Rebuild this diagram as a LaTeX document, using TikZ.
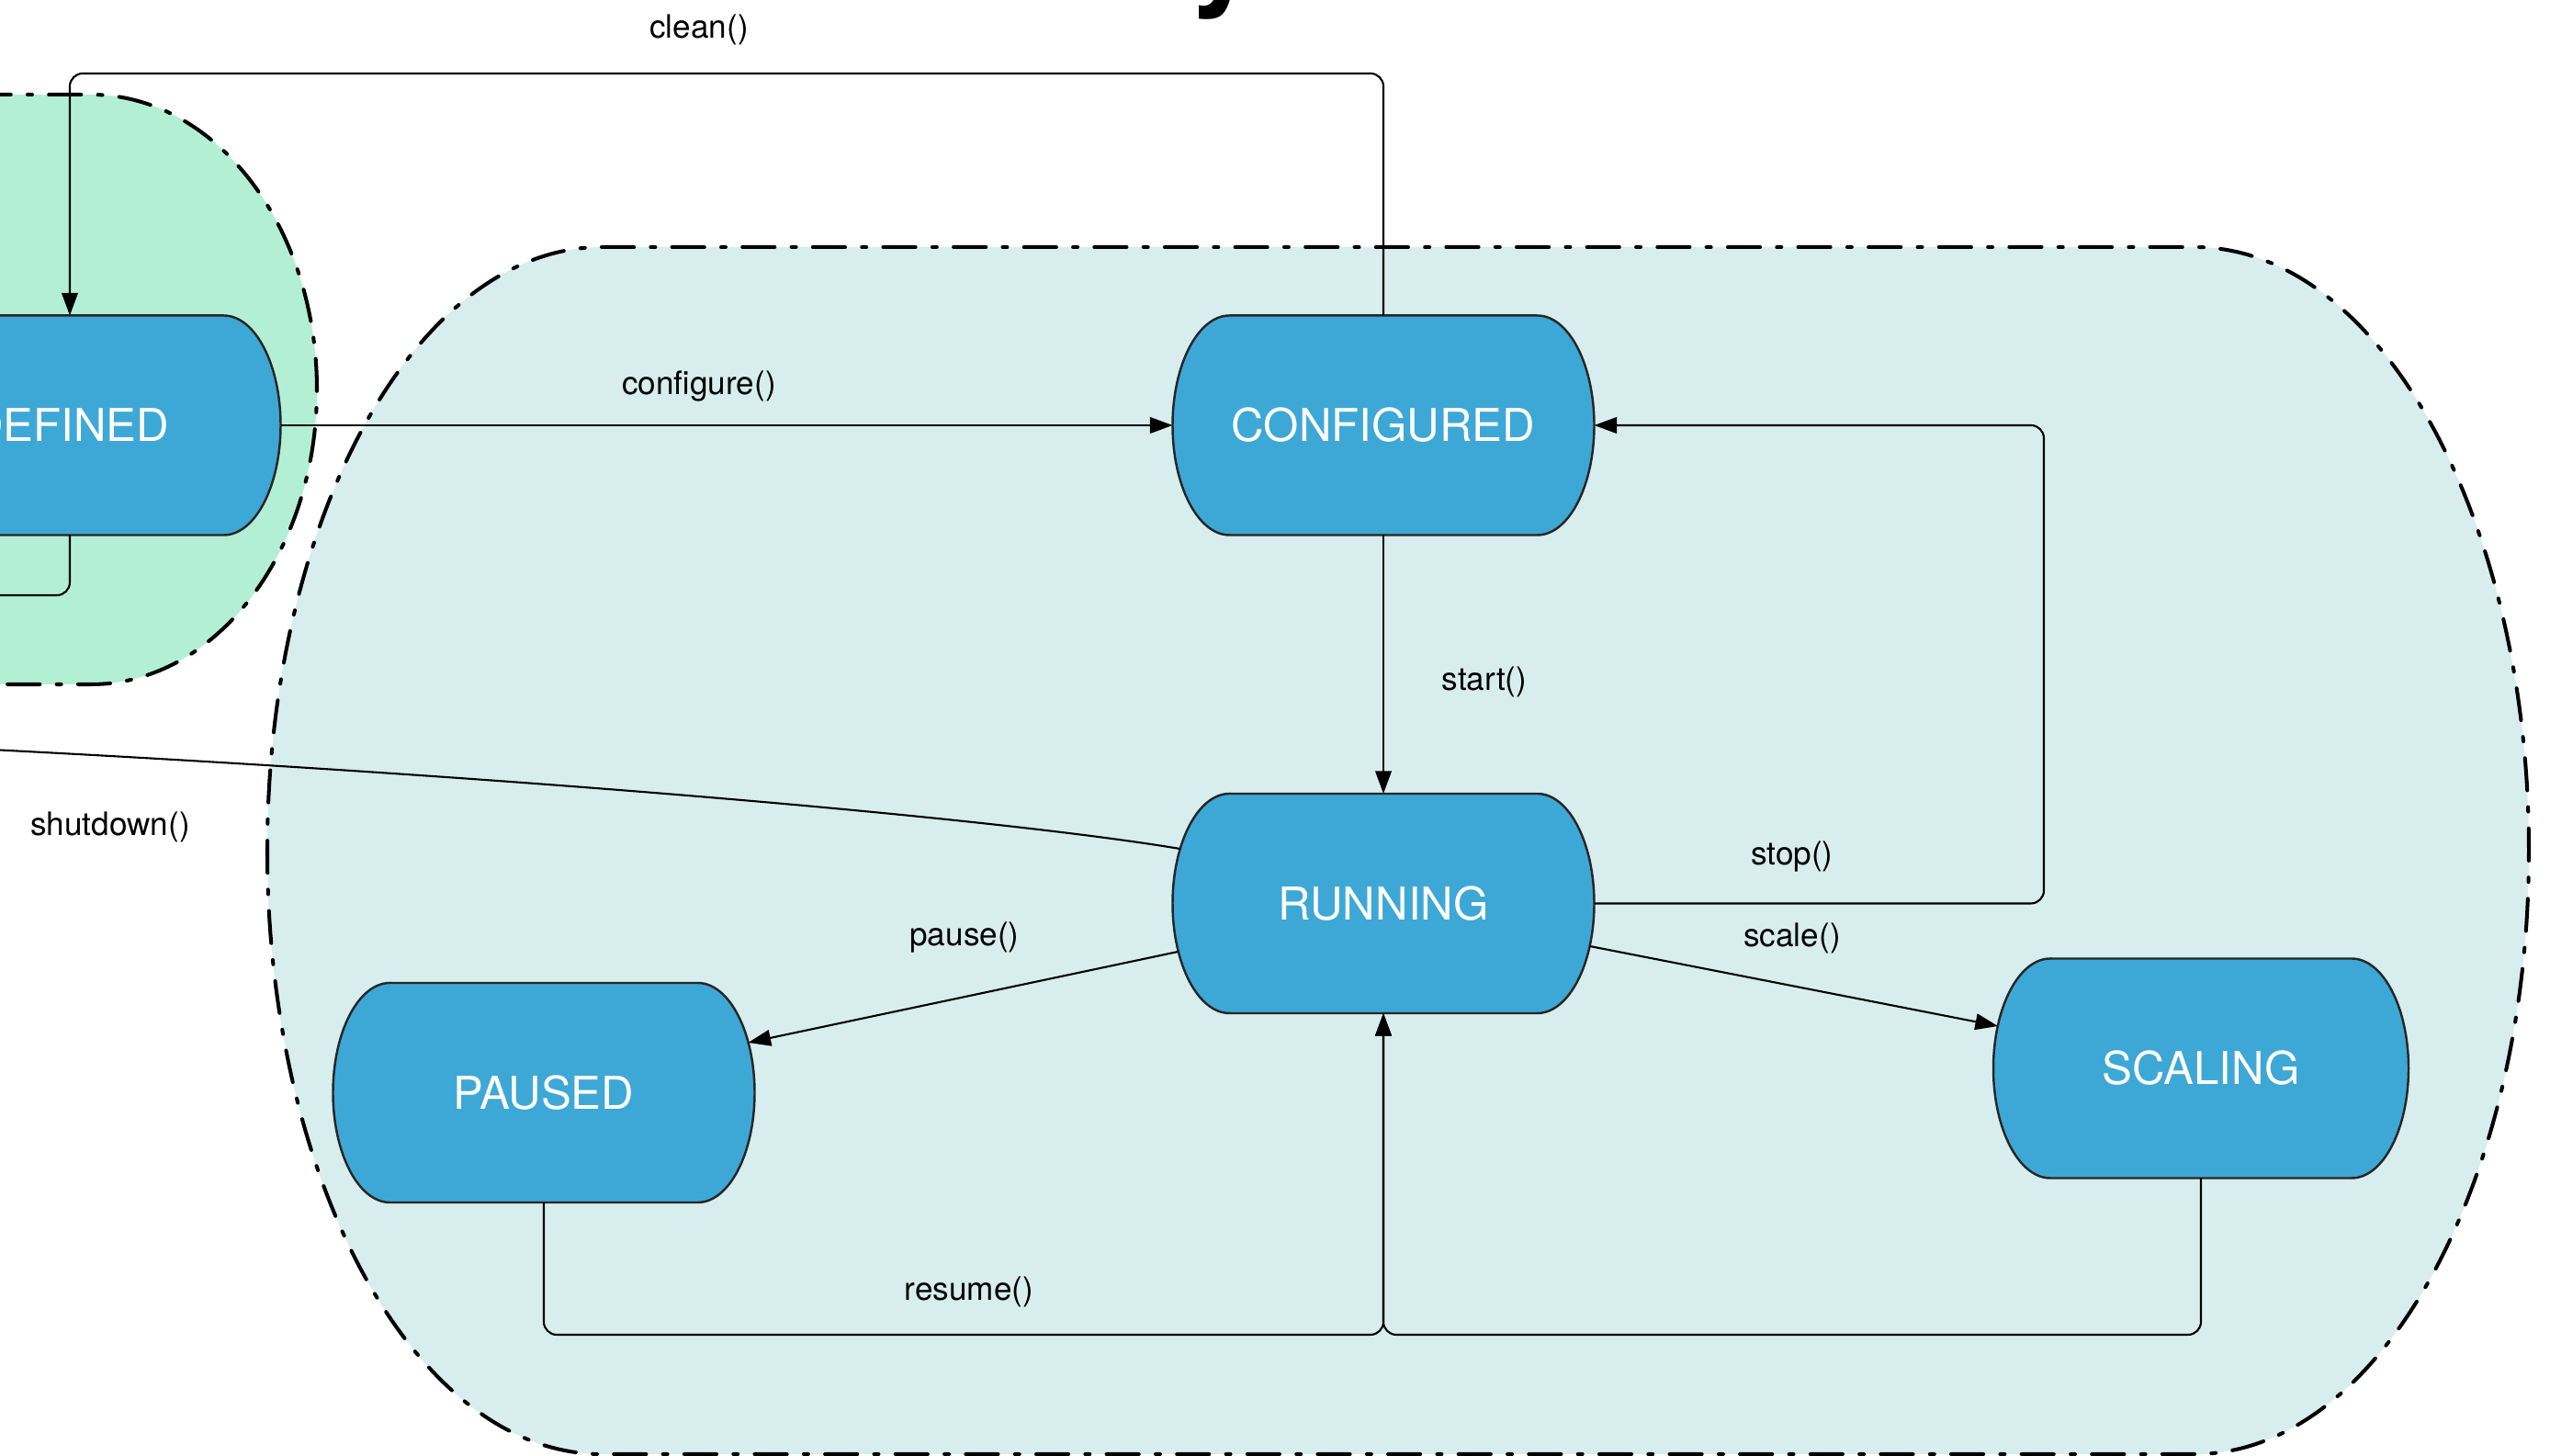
\documentclass[tikz,border=0pt]{standalone}
\usepackage{fontspec}
\setmainfont{TeX Gyre Heros}
\usetikzlibrary{arrows.meta,calc}
\definecolor{stateblue}{HTML}{3DA8D6}
\definecolor{regionteal}{HTML}{D7EDEE}
\definecolor{regiongreen}{HTML}{B3EFD4}
\pgfdeclarelayer{regions}
\pgfdeclarelayer{shapes}
\pgfsetlayers{regions,shapes,main}
% half-width of the curved ends and half-height of a state
\newcommand\stRx{0.62cm}
\newcommand\stRy{1.195cm}
% outline of a state: flat top and bottom, elliptic sides
\newcommand\drawstate[1]{%
  \path[stateshape] ([xshift=\stRx]#1.north west) -- ([xshift=-\stRx]#1.north east)
    arc[start angle=90, end angle=-90, x radius=\stRx, y radius=\stRy]
    -- ([xshift=\stRx]#1.south west)
    arc[start angle=270, end angle=90, x radius=\stRx, y radius=\stRy] -- cycle;}
\tikzset{
  state/.style={minimum width=4.59cm, minimum height=2.39cm, inner sep=0pt,
    outer sep=0pt, text=white, font=\fontsize{14}{16}\selectfont},
  stateshape/.style={fill=stateblue, draw=black!85, line width=0.7pt},
  region/.style={draw=black, line width=1.15pt, line cap=round,
    dash pattern=on 10pt off 5.2pt on 1.4pt off 5.2pt},
  conn/.style={line width=0.6pt, rounded corners=4pt},
  arr/.style={conn, -{Triangle[length=7pt,width=5pt]}},
  lbl/.style={font=\fontsize{10}{12}\selectfont, inner sep=1pt},
}
\begin{document}
\begin{tikzpicture}
\useasboundingbox (0,0) rectangle (27.76,15.85);
\clip (0,0) rectangle (27.76,15.85);

% heading, only its descender falls inside the frame
\node[anchor=base west, font=\fontsize{40}{48}\selectfont\bfseries, inner sep=0pt]
  (title) at (12.93,15.945) {y};

% state groups
\begin{pgfonlayer}{regions}
  \path[region, fill=regiongreen] (-1,14.82) -- (0.99,14.82)
    arc[start angle=90, end angle=-90, x radius=2.46, y radius=3.21]
    -- (-1,8.40) -- cycle;
  \path[region, fill=regionteal] (6.55,13.16) -- (23.89,13.16)
    arc[start angle=90, end angle=-90, x radius=3.64, y radius=6.57]
    -- (6.55,0.02)
    arc[start angle=270, end angle=90, x radius=3.64, y radius=6.57] -- cycle;
\end{pgfonlayer}

% states
\node[state] (def)    at (0.76,11.22)  {DEFINED};
\node[state] (conf)   at (15.06,11.22) {CONFIGURED};
\node[state] (run)    at (15.06,6.015) {RUNNING};
\node[state] (paused) at (5.92,3.955)  {PAUSED};
\node[state, minimum width=4.52cm] (scal) at (23.96,4.22) {SCALING};

\begin{pgfonlayer}{shapes}
  \drawstate{def}
  \drawstate{conf}
  \drawstate{run}
  \drawstate{paused}
  \drawstate{scal}
\end{pgfonlayer}

% helper coordinates for routed connectors
\coordinate (cleany) at (0,15.05);
\coordinate (defout) at (-0.5,9.37);
\coordinate (stopx)  at (22.25,0);
\coordinate (busy)   at (0,1.32);
\coordinate (shutend) at (-0.3,7.70);

% transitions
\draw[arr] (conf.north) -- (conf.north |- cleany) -| (def.north);
\draw[conn] (def.south) |- (defout);
\draw[arr] (def.east) -- (conf.west);
\draw[arr] (conf.south) -- (run.north);
\draw[arr] (run.east) -| (stopx |- conf.east) -- (conf.east);
\draw[arr] ([shift={(-0.05,-0.465)}]run.east) -- ([shift={(0.05,0.46)}]scal.west);
\draw[arr] ([shift={(0.06,-0.525)}]run.west) -- ([shift={(-0.07,0.545)}]paused.east);
\draw[arr] (paused.south) |- (busy -| run.south) -- (run.south);
\draw[arr] (scal.south) |- (busy -| run.south) -- (run.south);
\draw[conn] ([shift={(0.08,0.595)}]run.west) .. controls (11.0,6.92) and (6.0,7.38) .. (shutend);

% transition labels
\node[lbl] (lclean)    at (7.61,15.53)  {clean()};
\node[lbl] (lconf)     at (7.61,11.65)  {configure()};
\node[lbl] (lstart)    at (16.16,8.43)  {start()};
\node[lbl] (lstop)     at (19.51,6.52)  {stop()};
\node[lbl] (lscale)    at (19.51,5.64)  {scale()};
\node[lbl] (lpause)    at (10.50,5.64)  {pause()};
\node[lbl] (lresume)   at (10.55,1.79)  {resume()};
\node[lbl] (lshutdown) at (1.20,6.85)   {shutdown()};
\end{tikzpicture}
\end{document}
